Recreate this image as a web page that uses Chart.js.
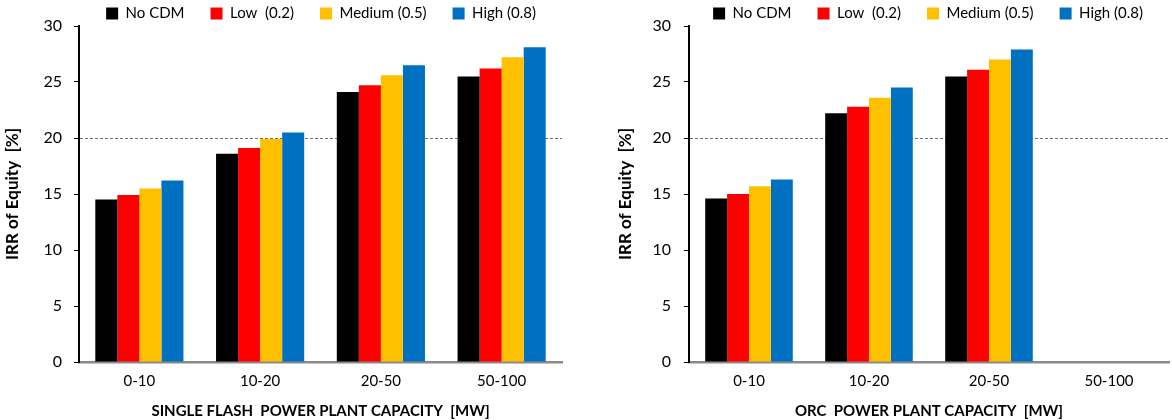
<!DOCTYPE html>
<html>
<head>
<meta charset="utf-8">
<script src="https://cdn.jsdelivr.net/npm/chart.js@4.4.0/dist/chart.umd.min.js"></script>
<style>
  body { margin: 0; background: #fff; }
  #wrap { position: relative; width: 1172px; height: 420px; }
  .box { position: absolute; top: 0; height: 420px; }
</style>
</head>
<body>
<div id="wrap">
  <div class="box" style="left:0;width:572px"><canvas id="left"></canvas></div>
  <div class="box" style="left:608px;width:564px"><canvas id="right"></canvas></div>
</div>
<script>
const categories = ["0-10", "10-20", "20-50", "50-100"];
const seriesNames = ["No CDM", "Low  (0.2)", "Medium (0.5)", "High (0.8)"];
const colors = ["#000000", "#ff0000", "#ffc000", "#0070c0"];
const yTicks = [0, 5, 10, 15, 20, 25, 30];

// single flash
const flashNoCdm = [14.5, 18.6, 24.1, 25.5];
const flashLow = [14.9, 19.1, 24.7, 26.2];
const flashMedium = [15.5, 19.9, 25.6, 27.2];
const flashHigh = [16.2, 20.5, 26.5, 28.1];

// ORC - no 50-100 plants
const orcNoCdm = [14.6, 22.2, 25.5, null];
const orcLow = [15.0, 22.8, 26.1, null];
const orcMedium = [15.7, 23.6, 27.0, null];
const orcHigh = [16.3, 24.5, 27.9, null];

const font = "Lato, 'Open Sans', sans-serif";

// cfg: y axis width, right padding, y title padding, y tick padding
function makeChart(id, series, xTitle, cfg) {
  new Chart(document.getElementById(id), {
    type: "bar",
    data: {
      labels: categories,
      datasets: series.map((d, i) => ({
        label: seriesNames[i],
        data: d,
        backgroundColor: colors[i],
        borderWidth: 0,
        categoryPercentage: 0.73,
        barPercentage: 1.0
      }))
    },
    options: {
      responsive: true,
      maintainAspectRatio: false,
      animation: false,
      layout: { padding: { left: 0, right: cfg.right, top: -20, bottom: 0 } },
      plugins: {
        tooltip: { enabled: false },
        legend: {
          position: "top",
          align: "end",
          maxHeight: 46,
          labels: {
            font: { family: font, size: 15 },
            color: "#000",
            boxWidth: 12,
            boxHeight: 12,
            padding: 26
          }
        }
      },
      scales: {
        x: {
          afterFit: (axis) => { axis.height = 58; },
          grid: { display: false, drawTicks: false },
          border: { color: "#8a8a8a", width: 2.5 },
          ticks: { font: { family: font, size: 15 }, color: "#000", padding: 10 },
          title: {
            display: true,
            text: xTitle,
            font: { family: font, size: 15, weight: "bold" },
            color: "#000",
            padding: { top: 0, bottom: 0 }
          }
        },
        y: {
          min: 0,
          max: 30,
          afterFit: (axis) => { axis.width = cfg.yWidth; },
          afterBuildTicks: (axis) => { axis.ticks = yTicks.map(v => ({ value: v })); },
          grid: {
            drawTicks: true,
            tickLength: 5,
            tickColor: "#000",
            color: (c) => (c.tick && c.tick.value === 20 ? "#707070" : "rgba(0,0,0,0)"),
            lineWidth: 1
          },
          border: { color: "#000", width: 2, dash: [3, 2] },
          ticks: { font: { family: font, size: 16 }, color: "#000", padding: cfg.tickPad },
          title: {
            display: true,
            text: "IRR of Equity  [%]",
            font: { family: font, size: 17, weight: "bold" },
            color: "#000",
            padding: { top: cfg.titlePad, bottom: 0 }
          }
        }
      }
    }
  });
}

makeChart("left", [flashNoCdm, flashLow, flashMedium, flashHigh],
  "SINGLE FLASH  POWER PLANT CAPACITY  [MW]",
  { yWidth: 79, right: 10, titlePad: 2, tickPad: 12 });
makeChart("right", [orcNoCdm, orcLow, orcMedium, orcHigh],
  "ORC  POWER PLANT CAPACITY  [MW]",
  { yWidth: 81, right: 3, titlePad: 7, tickPad: 13 });
</script>
</body>
</html>
